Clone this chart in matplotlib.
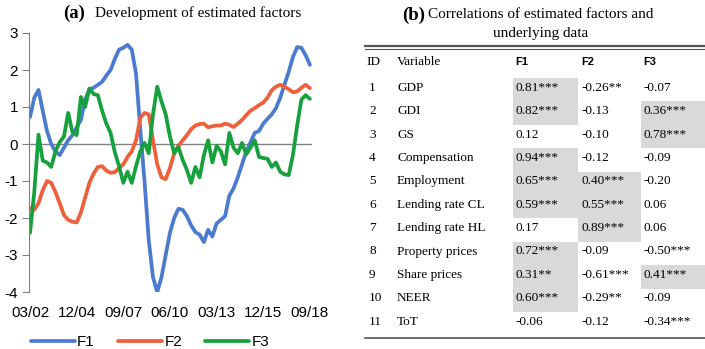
import matplotlib
matplotlib.use("Agg")
import matplotlib.pyplot as plt
from matplotlib.patches import Rectangle
from matplotlib import font_manager

plt.rcParams['axes.unicode_minus'] = False

# ---------------- data: panel (a) ----------------
quarters = list(range(67))  # 2002Q1 .. 2018Q3
tick_idx = [0, 11, 22, 33, 44, 55, 66]
tick_labels = ["03/02", "12/04", "09/07", "06/10", "03/13", "12/15", "09/18"]

f1 = [0.73, 1.25, 1.46, 0.9, 0.35, 0.0, -0.2, -0.3, -0.1, 0.1, 0.24, 0.45, 0.65,
      1.2, 1.48, 1.52, 1.6, 1.68, 1.85, 2.0, 2.3, 2.55, 2.6, 2.68, 2.55, 1.9, 0.4,
      -1.0, -2.6, -3.6, -4.0, -3.6, -3.0, -2.4, -2.0, -1.75, -1.78, -1.95, -2.2,
      -2.38, -2.45, -2.65, -2.32, -2.5, -2.15, -2.05, -1.95, -1.4, -1.2, -0.9,
      -0.55, -0.2, 0.05, 0.3, 0.35, 0.55, 0.68, 0.8, 0.97, 1.25, 1.6, 1.95, 2.35,
      2.62, 2.6, 2.4, 2.14]
f2 = [-1.73, -1.78, -1.6, -1.25, -1.0, -1.05, -1.3, -1.6, -1.92, -2.05, -2.1,
      -2.12, -1.85, -1.45, -1.05, -0.8, -0.62, -0.6, -0.72, -0.78, -0.76, -0.65,
      -0.55, -0.35, -0.2, 0.1, 0.7, 0.84, 0.8, 0.1, -0.55, -0.9, -0.95, -0.65,
      -0.25, -0.05, 0.1, 0.24, 0.4, 0.5, 0.54, 0.55, 0.45, 0.48, 0.5, 0.5, 0.55,
      0.52, 0.46, 0.55, 0.65, 0.78, 0.9, 0.97, 1.05, 1.12, 1.25, 1.45, 1.55, 1.6,
      1.55, 1.48, 1.4, 1.42, 1.52, 1.6, 1.51]
f3 = [-2.4, -1.3, 0.25, -0.45, -0.5, -0.62, -0.2, 0.05, 0.2, 0.84, 0.32, 0.24,
      1.27, 1.0, 1.5, 1.35, 1.32, 0.9, 0.55, 0.3, -0.22, -0.6, -1.05, -0.75,
      -1.05, -0.6, -0.2, 0.03, -0.25, 0.8, 1.55, 1.15, 0.8, 0.2, -0.25, -0.08,
      -0.43, -0.7, -1.05, -0.62, -0.9, -0.3, 0.1, -0.5, -0.05, -0.2, -0.55, 0.3,
      -0.1, -0.25, 0.03, -0.28, -0.1, 0.1, -0.35, -0.38, -0.4, -0.62, -0.5,
      -0.75, -0.82, -0.84, -0.3, 0.5, 1.2, 1.32, 1.22]

# ---------------- data: panel (b) ----------------
ids = [str(i) for i in range(1, 12)]
variables = ["GDP", "GDI", "GS", "Compensation", "Employment", "Lending rate CL",
             "Lending rate HL", "Property prices", "Share prices", "NEER", "ToT"]
col_f1 = ["0.81***", "0.82***", "0.12", "0.94***", "0.65***", "0.59***", "0.17",
          "0.72***", "0.31**", "0.60***", "-0.06"]
col_f2 = ["-0.26**", "-0.13", "-0.10", "-0.12", "0.40***", "0.55***", "0.89***",
          "-0.09", "-0.61***", "-0.29**", "-0.12"]
col_f3 = ["-0.07", "0.36***", "0.78***", "-0.09", "-0.20", "0.06", "0.06",
          "-0.50***", "0.41***", "-0.09", "-0.34***"]
shade_f1 = [1, 1, 0, 1, 1, 1, 0, 1, 1, 1, 0]
shade_f2 = [0, 0, 0, 0, 1, 1, 1, 0, 0, 0, 0]
shade_f3 = [0, 1, 1, 0, 0, 0, 0, 0, 1, 0, 0]

# narrow sans font for the chart axis if available
try:
    _p = font_manager.findfont("Liberation Sans Narrow", fallback_to_default=False)
    axis_font, axis_size = "Liberation Sans Narrow", 12.5
except Exception:
    axis_font, axis_size = "Liberation Sans", 11

W, H = 705, 349
fig = plt.figure(figsize=(W / 100, H / 100), dpi=100)

# ---------------- panel (a) ----------------
ax = fig.add_axes([29 / W, 1 - 292 / H, (312 - 29) / W, (292 - 33) / H])
c1, c2, c3 = "#4A7BCF", "#EF5F3B", "#16A13C"
lw = 2.7
for vals, col, name in [(f1, c1, "F1"), (f2, c2, "F2"), (f3, c3, "F3")]:
    ax.plot(quarters, vals, color=col, lw=lw, label=name,
            solid_capstyle="round", solid_joinstyle="round")
ax.axhline(0, color="#808080", lw=1.0, zorder=0)
ax.set_xlim(-0.24, 66.5)
ax.set_ylim(-4, 3)
ax.set_yticks(range(-4, 4))
ax.set_xticks(tick_idx)
ax.set_xticklabels(tick_labels)
for s in ["top", "right", "bottom"]:
    ax.spines[s].set_visible(False)
ax.spines["left"].set_color("#808080")
ax.tick_params(axis="y", length=5, color="#808080", labelsize=axis_size, pad=3)
ax.tick_params(axis="x", length=0, labelsize=axis_size, pad=10)
for t in ax.get_xticklabels() + ax.get_yticklabels():
    t.set_fontfamily(axis_font)
ax.patch.set_alpha(0)

fig.legend(loc="center", bbox_to_anchor=(150 / W, 1 - 342 / H), ncol=3,
           frameon=False, handlelength=2.9, handletextpad=0.15,
           columnspacing=1.5, prop={"family": axis_font, "size": axis_size})

fig.text(63 / W, 1 - 13 / H, "(a)", fontfamily="Liberation Serif", fontweight="bold",
         fontsize=13.5, ha="left", va="center")
fig.text(95 / W, 1 - 13 / H, "Development of estimated factors",
         fontfamily="Liberation Serif", fontsize=11, ha="left", va="center")

# ---------------- panel (b) ----------------
tx = fig.add_axes([0, 0, 1, 1])
tx.set_xlim(0, W)
tx.set_ylim(H, 0)
tx.axis("off")

fig.text(402 / W, 1 - 15 / H, "(b)", fontfamily="Liberation Serif", fontweight="bold",
         fontsize=13.5, ha="left", va="center")
fig.text(428 / W, 1 - 15 / H, "Correlations of estimated factors and",
         fontfamily="Liberation Serif", fontsize=11, ha="left", va="center")
fig.text(541 / W, 1 - 33 / H, "underlying data",
         fontfamily="Liberation Serif", fontsize=11, ha="center", va="center")

x_left, x_right = 365, 705
tx.plot([x_left, x_right], [45.8, 45.8], color="#555555", lw=1.6)
tx.plot([x_left, x_right], [49.2, 49.2], color="#555555", lw=0.8)
tx.plot([x_left, x_right], [338, 338], color="#555555", lw=1.2)

col_x = [369, 397, 515, 581, 643]
cell_x = [(513, 578), (578, 641), (641, 705)]
row_top0, row_h = 78, 23.4
serif = dict(fontfamily="Liberation Serif", fontsize=9.5, va="center", ha="left")

hdr_y = 62
tx.text(col_x[0] - 3, hdr_y, "ID", **serif)
tx.text(col_x[1], hdr_y, "Variable", **serif)
for j, name in enumerate(["F1", "F2", "F3"]):
    tx.text(col_x[2 + j], hdr_y, name, fontfamily="Liberation Sans", fontweight="bold",
            fontsize=8, va="center", ha="left")

for i in range(len(ids)):
    top = row_top0 + i * row_h
    yc = top + row_h / 2 - 2
    for j, shade in enumerate([shade_f1, shade_f2, shade_f3]):
        if shade[i]:
            x0, x1 = cell_x[j]
            tx.add_patch(Rectangle((x0, top), x1 - x0, row_h, facecolor="#D9D9D9",
                                   edgecolor="none", zorder=0))
    tx.text(col_x[0], yc, ids[i], **serif)
    tx.text(col_x[1], yc, variables[i], **serif)
    tx.text(col_x[2], yc, col_f1[i], **serif)
    tx.text(col_x[3], yc, col_f2[i], **serif)
    tx.text(col_x[4], yc, col_f3[i], **serif)

fig.savefig("out.png", dpi=100)
